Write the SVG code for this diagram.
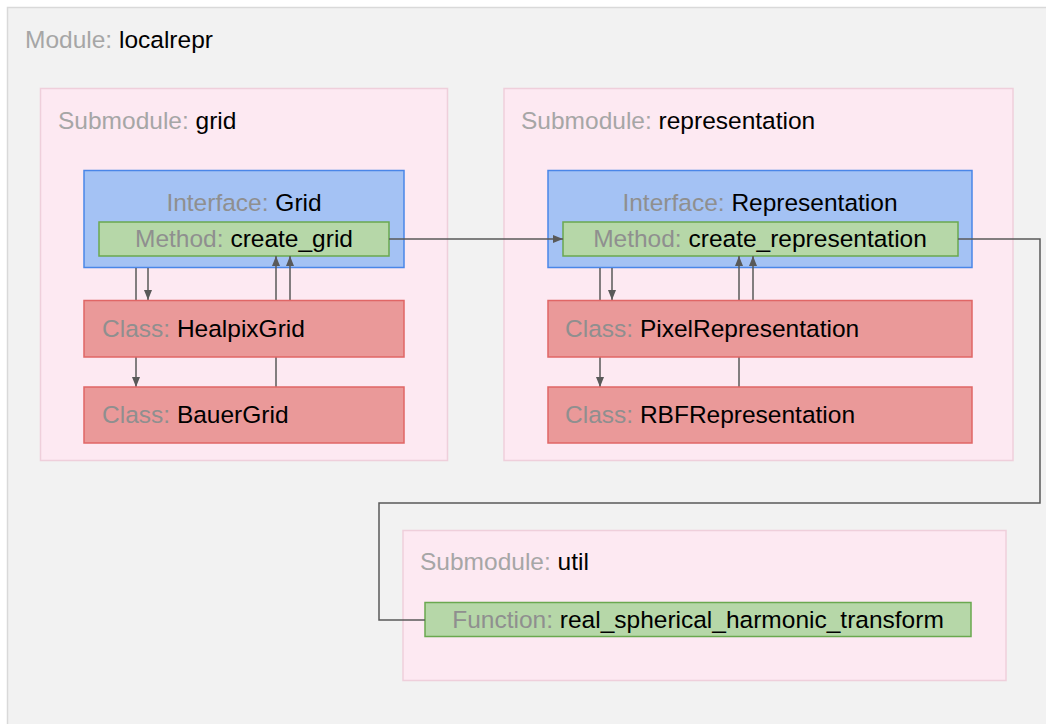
<svg xmlns="http://www.w3.org/2000/svg" width="1046" height="724" viewBox="0 0 1046 724">
<style>
text{font-family:"Liberation Sans",Arial,sans-serif;font-size:24.5px;fill:#000}
.p{fill:#a6a6a6}
.q{fill:#8f8f8f}
.mod{fill:#f2f2f2;stroke:#d9d9d9;stroke-width:1.5}
.sub{fill:#fde9f2;stroke:#efcfdb;stroke-width:1.5}
.ifc{fill:#a4c2f4;stroke:#4a86e8;stroke-width:1.5}
.mth{fill:#b6d7a8;stroke:#6aa84f;stroke-width:1.5}
.cls{fill:#ea9999;stroke:#e06666;stroke-width:1.5}
.e{fill:none;stroke:#595959;stroke-width:1.5}
.a{marker-end:url(#ah)}
</style>
<defs>
<marker id="ah" markerUnits="userSpaceOnUse" markerWidth="10" markerHeight="8" refX="10" refY="4" orient="auto">
<path d="M0,0 L10,4 L0,8 z" fill="#595959"/>
</marker>
</defs>
<g id="module-localrepr">
<rect class="mod" x="7.5" y="7.5" width="1050" height="730"/>
<text x="25" y="48"><tspan class="p">Module: </tspan>localrepr</text>
</g>
<g id="submodule-grid">
<rect class="sub" x="40.5" y="88.5" width="407" height="372"/>
<text x="58" y="129"><tspan class="p">Submodule: </tspan>grid</text>
</g>
<g id="submodule-representation">
<rect class="sub" x="504" y="88.5" width="509" height="372"/>
<text x="521" y="129"><tspan class="p">Submodule: </tspan>representation</text>
</g>
<g id="submodule-util">
<rect class="sub" x="403" y="530.5" width="603" height="150"/>
<text x="420" y="570"><tspan class="p">Submodule: </tspan>util</text>
</g>
<g id="interface-Grid">
<rect class="ifc" x="84" y="170.5" width="320" height="97"/>
<text x="244" y="211" text-anchor="middle"><tspan class="q">Interface: </tspan>Grid</text>
</g>
<g id="method-create_grid">
<rect class="mth" x="99" y="222" width="290" height="34"/>
<text x="244" y="247" text-anchor="middle"><tspan class="q">Method: </tspan>create_grid</text>
</g>
<g id="interface-Representation">
<rect class="ifc" x="548" y="170.5" width="424" height="97"/>
<text x="760" y="211" text-anchor="middle"><tspan class="q">Interface: </tspan>Representation</text>
</g>
<g id="method-create_representation">
<rect class="mth" x="563" y="222" width="395" height="34"/>
<text x="760" y="247" text-anchor="middle"><tspan class="q">Method: </tspan>create_representation</text>
</g>
<g id="function-real_spherical_harmonic_transform">
<rect class="mth" x="425" y="602.5" width="546" height="34"/>
<text x="698" y="628" text-anchor="middle"><tspan class="q">Function: </tspan>real_spherical_harmonic_transform</text>
</g>
<g id="connectors">
<path class="e a" d="M136,268 V387"/>
<path class="e a" d="M148,268 V300"/>
<path class="e a" d="M276,387 V256"/>
<path class="e a" d="M290,300 V256"/>
<path class="e a" d="M600,268 V387"/>
<path class="e a" d="M612,268 V300"/>
<path class="e a" d="M739,387 V256"/>
<path class="e a" d="M753,300 V256"/>
<path class="e a" d="M389,239 H563"/>
<path class="e" d="M958,239 H1040 V503 H379 V620 H425"/>
</g>
<g id="class-HealpixGrid">
<rect class="cls" x="84" y="300.5" width="320" height="56.5"/>
<text x="102" y="337"><tspan class="q">Class: </tspan>HealpixGrid</text>
</g>
<g id="class-BauerGrid">
<rect class="cls" x="84" y="387" width="320" height="56"/>
<text x="102" y="423"><tspan class="q">Class: </tspan>BauerGrid</text>
</g>
<g id="class-PixelRepresentation">
<rect class="cls" x="548" y="300.5" width="424" height="56.5"/>
<text x="565" y="337"><tspan class="q">Class: </tspan>PixelRepresentation</text>
</g>
<g id="class-RBFRepresentation">
<rect class="cls" x="548" y="387" width="424" height="56"/>
<text x="565" y="423"><tspan class="q">Class: </tspan>RBFRepresentation</text>
</g>
</svg>
